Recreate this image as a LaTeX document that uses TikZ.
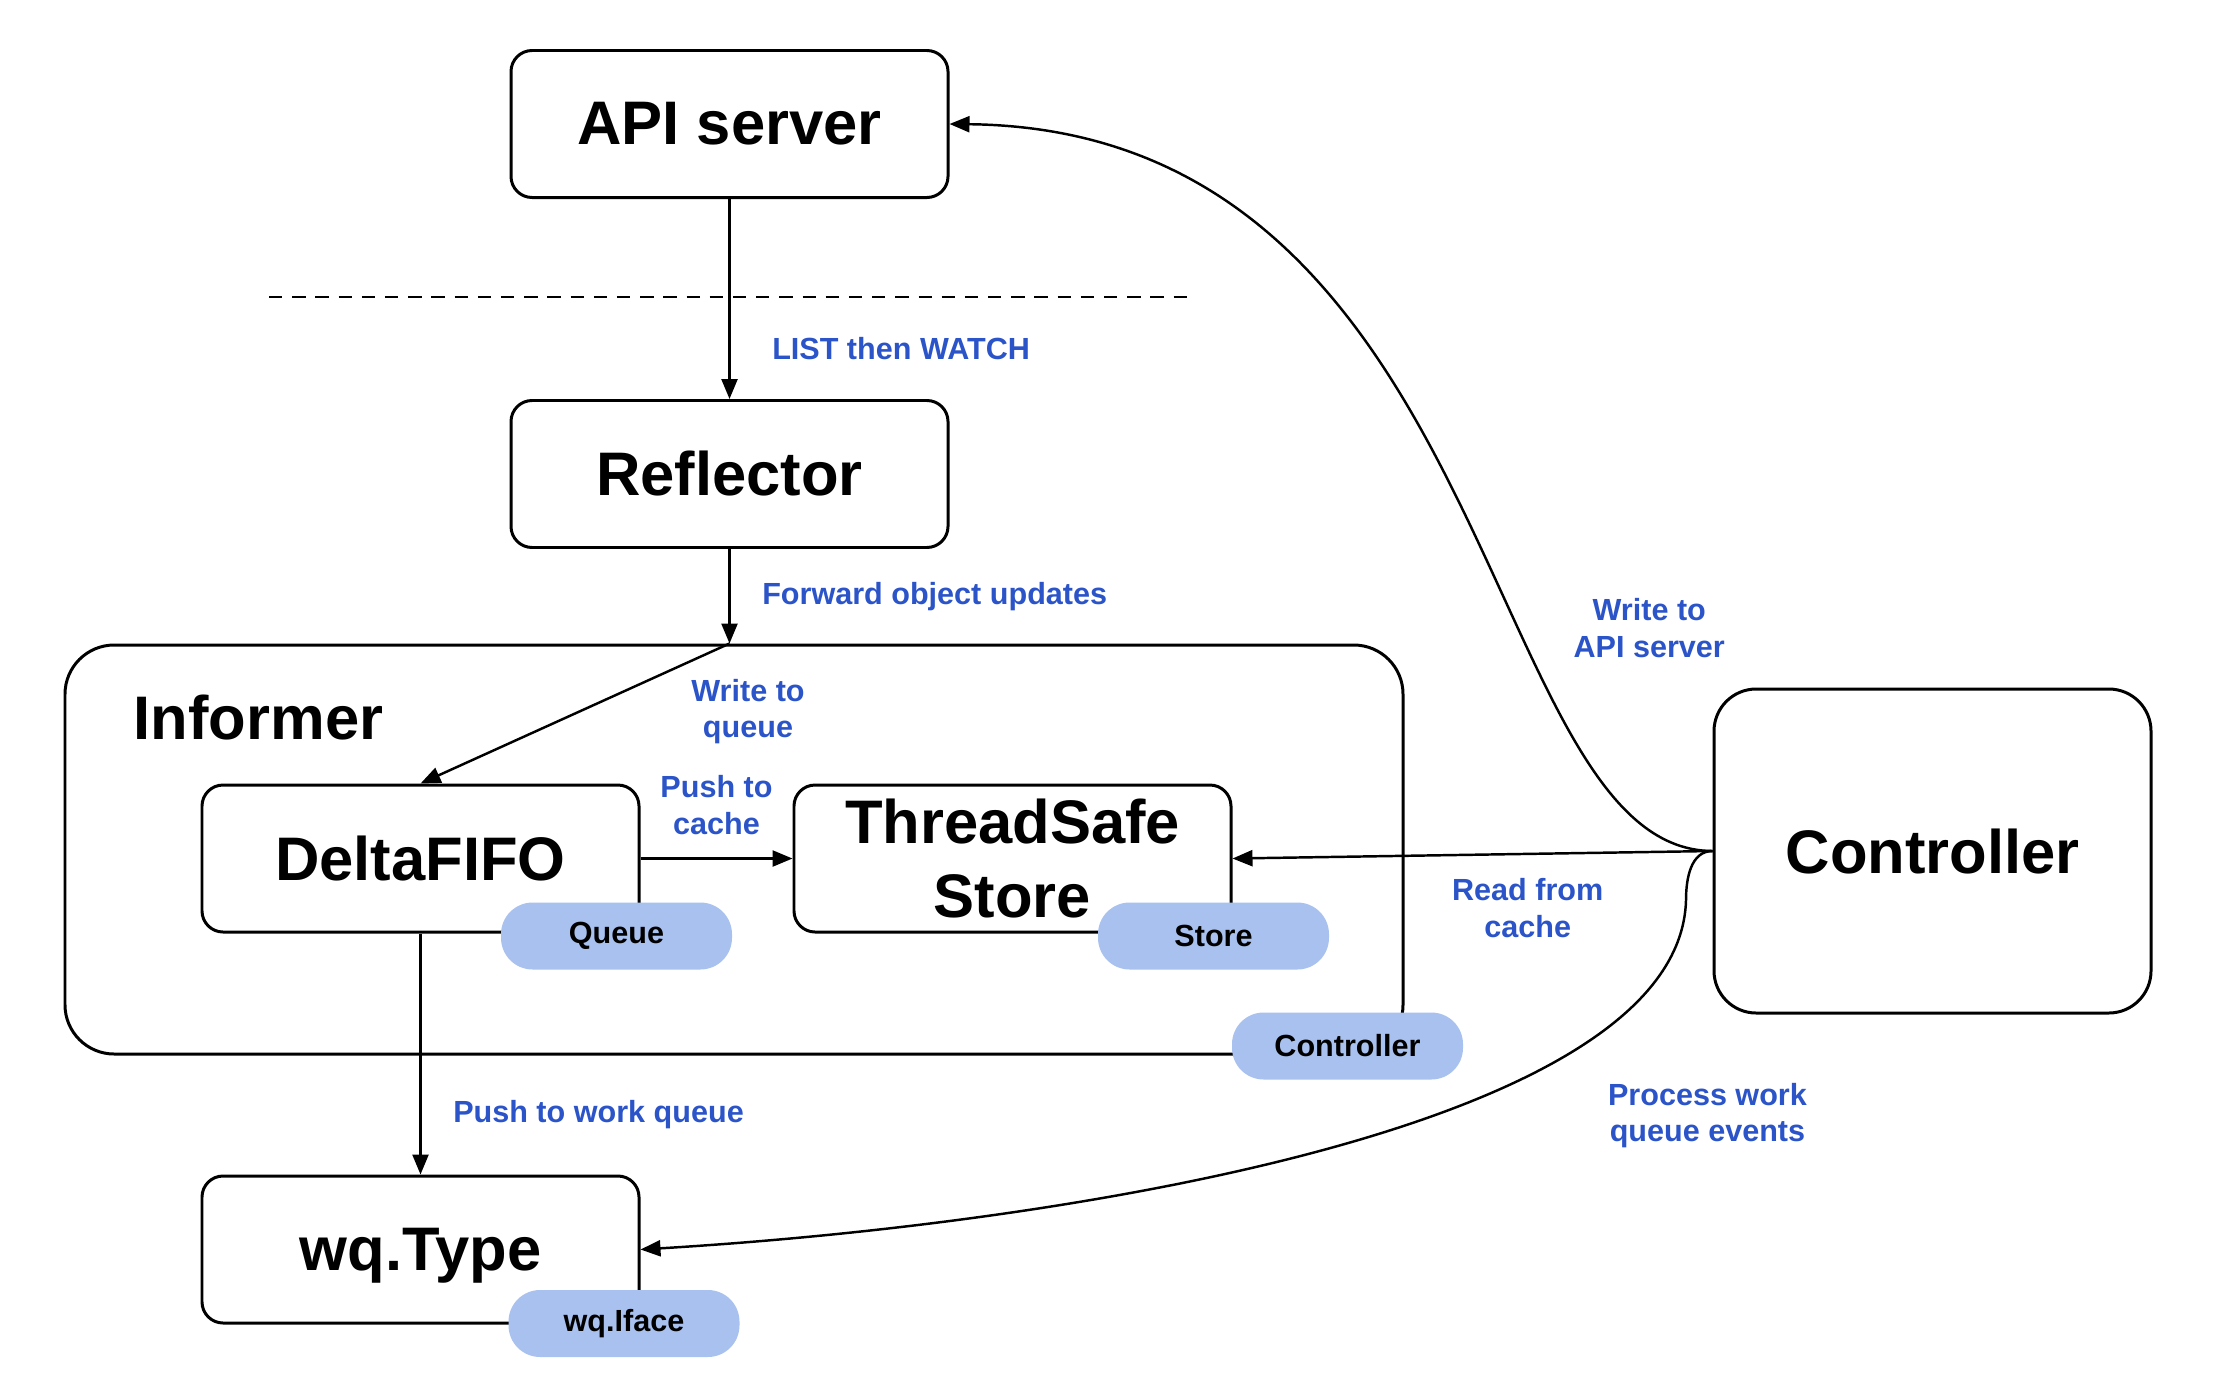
\documentclass[tikz,border=0pt]{standalone}
\usepackage{fontspec}
\setmainfont{Liberation Sans}
\usepackage{xcolor}
\usepackage{tikz}
\usetikzlibrary{arrows.meta,positioning,calc}
\definecolor{noteblue}{HTML}{2B54C9}
\definecolor{tagfill}{HTML}{A8C1EE}

\begin{document}
\begin{tikzpicture}[
    box/.style={draw, line width=0.85pt, rounded corners=6pt, minimum width=4.37cm, minimum height=1.47cm, inner sep=2pt, align=center, font=\fontsize{17.5}{21}\selectfont\bfseries},
    tag/.style={fill=tagfill, rounded corners=9pt, minimum width=2.31cm, minimum height=0.67cm, inner sep=1pt, font=\fontsize{8.7}{10.4}\selectfont\bfseries},
    arrow/.style={-{Triangle[length=2mm,width=1.6mm]}, line width=0.7pt},
    note/.style={font=\fontsize{8.7}{10.4}\selectfont\bfseries, text=noteblue, align=center, inner sep=1pt}
]
    \useasboundingbox (0,0) rectangle (22.18,-13.91);

    % informer frame goes first, boxes sit on it
    \node[box, minimum width=13.38cm, minimum height=4.09cm, rounded corners=14pt] (informer) at (7.34,-8.495) {};
    \node[font=\fontsize{17.5}{21}\selectfont\bfseries, anchor=west, inner sep=0pt] (informertitle) at (1.33,-7.17) {Informer};

    \node[box] (api) at (7.295,-1.24) {API server};
    \node[box, below=2cm of api] (reflector) {Reflector};
    \node[box] (fifo) at (4.205,-8.585) {DeltaFIFO};
    \node[box, right=1.52cm of fifo] (store) {ThreadSafe\\Store};
    \node[box, below=2.41cm of fifo, text depth=0pt] (wq) {wq.Type};
    \node[box, minimum height=3.24cm, rounded corners=12pt] (controller) at (19.325,-8.51) {Controller};

    % tags on the corners
    \node[tag] (queuetag) at ($(fifo.south east)+(-0.24,-0.025)$) {Queue};
    \node[tag] (storetag) at ($(store.south east)+(-0.19,-0.025)$) {Store};
    \node[tag] (ctrltag) at ($(informer.south east)+(-0.57,0.095)$) {Controller};
    \node[tag] (ifacetag) at ($(wq.south east)+(-0.165,0.01)$) {wq.Iface};

    \coordinate (dashL) at (2.69,-2.97);
    \coordinate (dashR) at (11.88,-2.97);
    \draw[line width=0.75pt, dash pattern=on 3.8pt off 2.8pt] (dashL) -- (dashR);

    \coordinate (join) at (reflector.south |- informer.north);
    \coordinate (bend) at (16.86,-9.0);

    \draw[arrow] (api) -- (reflector) node[note, pos=0.75, right=0.38cm] {LIST then WATCH};
    \draw[arrow] (reflector) -- (join) node[note, midway, right=0.28cm] {Forward object updates};
    \draw[arrow] (join) -- (fifo.north) node[note, at start, xshift=0.185cm, yshift=-0.68cm] {Write to\\queue};
    \draw[arrow] (fifo) -- (store) node[note, midway, above=0.19cm] {Push to\\cache};
    \draw[arrow] (fifo) -- (wq) node[note, pos=0.75, right=0.28cm] {Push to work queue};
    \draw[arrow] (controller.west) -- (store.east) node[note, pos=0.385, below=0.2cm] {Read from\\cache};
    \draw[arrow] (controller.west) .. controls (14.8,-8.5) and (15.0,-1.3) .. (api.east)
        node[note, pos=0.35, anchor=west, xshift=0.43cm, yshift=0.19cm] {Write to\\API server};
    \draw[arrow] (controller.west) to[out=180, in=90] (bend) .. controls (16.8,-11.3) and (10.5,-12.25) .. (wq.east)
        node[note, pos=0.2, anchor=north west, xshift=-0.11cm, yshift=-0.56cm] {Process work\\queue events};
\end{tikzpicture}
\end{document}
